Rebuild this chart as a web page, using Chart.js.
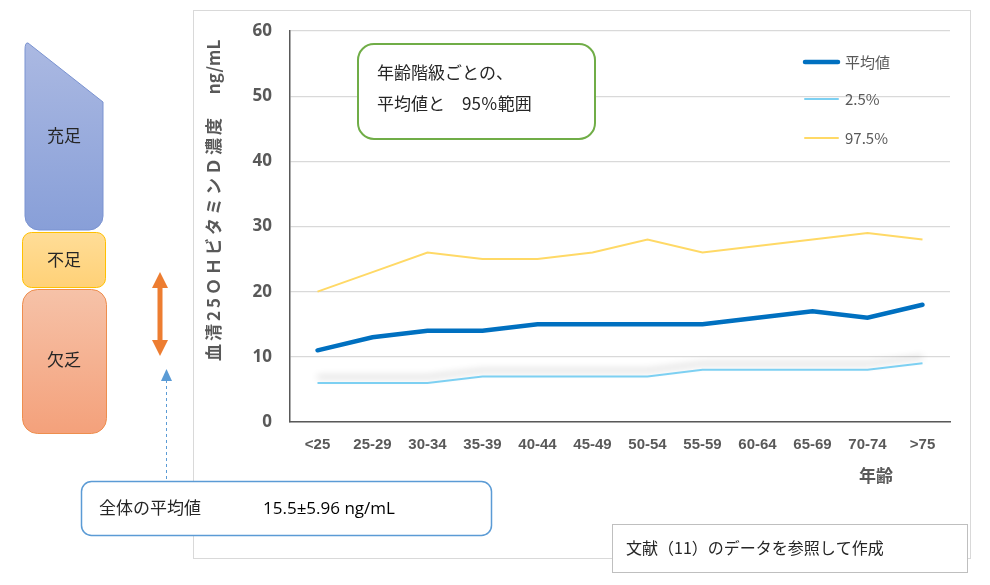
<!DOCTYPE html>
<html>
<head>
<meta charset="utf-8">
<script src="https://cdn.jsdelivr.net/npm/chart.js@4/dist/chart.umd.min.js"></script>
<style>
  html, body { margin: 0; padding: 0; background: #fff; }
  #wrap { width: 990px; height: 585px; position: relative; }
</style>
</head>
<body>
<div id="wrap"><canvas id="myChart"></canvas></div>
<script>
// 年齢階級
const ageGroups = ['<25', '25-29', '30-34', '35-39', '40-44', '45-49', '50-54', '55-59', '60-64', '65-69', '70-74', '>75'];
// 血清25OHビタミンD濃度 (ng/mL)
const meanValues = [11, 13, 14, 14, 15, 15, 15, 15, 16, 17, 16, 18];
const p025Values = [6, 6, 6, 7, 7, 7, 7, 8, 8, 8, 8, 9];
const p975Values = [20, 23, 26, 25, 25, 26, 28, 26, 27, 28, 29, 28];
const seriesNames = ['平均値', '2.5%', '97.5%'];
const yTicks = [0, 10, 20, 30, 40, 50, 60];

const JP = '"Noto Sans CJK JP", "Noto Sans", sans-serif';
const GRAY = '#595959';

function rr(ctx, x, y, w, h, r) {
    ctx.beginPath();
    ctx.moveTo(x + r, y);
    ctx.arcTo(x + w, y, x + w, y + h, r);
    ctx.arcTo(x + w, y + h, x, y + h, r);
    ctx.arcTo(x, y + h, x, y, r);
    ctx.arcTo(x, y, x + w, y, r);
    ctx.closePath();
}

function text(ctx, s, x, y, font, color, align) {
    ctx.font = font;
    ctx.fillStyle = color;
    ctx.textAlign = align || 'left';
    ctx.textBaseline = 'middle';
    ctx.fillText(s, x, y);
}

// 2.5%線の影
const shadowPlugin = {
    id: 'shadow',
    beforeDatasetDraw(chart, args) {
        if (args.index !== 1) return;
        const ctx = chart.ctx;
        ctx.save();
        ctx.shadowColor = 'rgba(0,0,0,0.28)';
        ctx.shadowBlur = 7;
        ctx.shadowOffsetY = -6;
    },
    afterDatasetDraw(chart, args) {
        if (args.index !== 1) return;
        chart.ctx.restore();
    }
};

const decorPlugin = {
    id: 'decor',
    beforeDraw(chart) {
        const ctx = chart.ctx;
        ctx.save();
        ctx.fillStyle = '#fff';
        ctx.fillRect(0, 0, chart.width, chart.height);
        ctx.strokeStyle = '#D9D9D9';
        ctx.lineWidth = 1;
        ctx.strokeRect(193.5, 10.5, 777, 548);
        ctx.restore();
    },
    afterDraw(chart) {
        const ctx = chart.ctx;
        ctx.save();

        // 軸タイトル
        ctx.save();
        ctx.translate(214, 0);
        ctx.rotate(-Math.PI / 2);
        ctx.letterSpacing = '3px';
        text(ctx, '血清25ＯＨビタミンＤ濃度', -238, 0, 'bold 17px ' + JP, GRAY, 'center');
        ctx.letterSpacing = '0px';
        text(ctx, 'ng/mL', -67, 0, 'bold 17px ' + JP, GRAY, 'center');
        ctx.restore();
        text(ctx, '年齢', 876, 476, 'bold 17px ' + JP, GRAY, 'center');

        // 凡例
        const legY = [62, 99, 138];
        chart.data.datasets.forEach((ds, i) => {
            ctx.strokeStyle = ds.borderColor;
            ctx.lineWidth = ds.borderWidth;
            ctx.lineCap = 'round';
            ctx.beginPath();
            ctx.moveTo(805, legY[i]);
            ctx.lineTo(838, legY[i]);
            ctx.stroke();
            text(ctx, ds.label, 845, legY[i], '15px ' + JP, GRAY);
        });
        ctx.lineCap = 'butt';

        // 注記枠
        rr(ctx, 358, 44, 237, 95, 16);
        ctx.fillStyle = '#fff';
        ctx.fill();
        ctx.strokeStyle = '#70AD47';
        ctx.lineWidth = 2;
        ctx.stroke();
        text(ctx, '年齢階級ごとの、', 377, 73, '17px ' + JP, '#262626');
        text(ctx, '平均値と　95％範囲', 377, 104, '17px ' + JP, '#262626');

        // 左側の区分
        let g = ctx.createLinearGradient(0, 42, 0, 230);
        g.addColorStop(0, '#ABB9E2');
        g.addColorStop(1, '#889FD8');
        ctx.beginPath();
        ctx.moveTo(25, 50);
        ctx.quadraticCurveTo(25, 42, 28, 43);
        ctx.lineTo(103, 102);
        ctx.lineTo(103, 215);
        ctx.arcTo(103, 230, 88, 230, 14);
        ctx.lineTo(40, 230);
        ctx.arcTo(25, 230, 25, 215, 14);
        ctx.closePath();
        ctx.fillStyle = g;
        ctx.fill();
        ctx.strokeStyle = '#7A93D1';
        ctx.lineWidth = 1;
        ctx.stroke();
        text(ctx, '充足', 64, 136, '17px ' + JP, '#262626', 'center');

        g = ctx.createLinearGradient(0, 232, 0, 287);
        g.addColorStop(0, '#FFDD98');
        g.addColorStop(1, '#FFD177');
        rr(ctx, 22.5, 232.5, 83, 55, 9);
        ctx.fillStyle = g;
        ctx.fill();
        ctx.strokeStyle = '#FFC000';
        ctx.stroke();
        text(ctx, '不足', 64, 260, '17px ' + JP, '#262626', 'center');

        g = ctx.createLinearGradient(0, 289, 0, 433);
        g.addColorStop(0, '#F6C2A8');
        g.addColorStop(1, '#F4A17B');
        rr(ctx, 22.5, 289.5, 84, 144, 15);
        ctx.fillStyle = g;
        ctx.fill();
        ctx.strokeStyle = '#EE8E4E';
        ctx.stroke();
        text(ctx, '欠乏', 64, 360, '17px ' + JP, '#262626', 'center');

        // 橙の両矢印
        ctx.fillStyle = '#ED7D31';
        ctx.beginPath();
        ctx.moveTo(160, 272);
        ctx.lineTo(168, 288);
        ctx.lineTo(162.5, 288);
        ctx.lineTo(162.5, 340);
        ctx.lineTo(168, 340);
        ctx.lineTo(160, 356);
        ctx.lineTo(152, 340);
        ctx.lineTo(157.5, 340);
        ctx.lineTo(157.5, 288);
        ctx.lineTo(152, 288);
        ctx.closePath();
        ctx.fill();

        // 青の破線矢印
        ctx.strokeStyle = '#5B9BD5';
        ctx.lineWidth = 1;
        ctx.setLineDash([3, 3]);
        ctx.beginPath();
        ctx.moveTo(166.5, 380);
        ctx.lineTo(166.5, 481);
        ctx.stroke();
        ctx.setLineDash([]);
        ctx.fillStyle = '#5B9BD5';
        ctx.beginPath();
        ctx.moveTo(166.5, 369);
        ctx.lineTo(172, 381);
        ctx.lineTo(161, 381);
        ctx.closePath();
        ctx.fill();

        // 全体の平均値
        rr(ctx, 81.5, 481.5, 410, 54, 10);
        ctx.fillStyle = '#fff';
        ctx.fill();
        ctx.strokeStyle = '#5B9BD5';
        ctx.lineWidth = 1.5;
        ctx.stroke();
        text(ctx, '全体の平均値', 99, 508, '17px ' + JP, '#262626');
        text(ctx, '15.5±5.96 ng/mL', 263, 509, '17px "Open Sans", sans-serif', '#000');

        // 出典
        ctx.fillStyle = '#fff';
        ctx.fillRect(612, 524, 355, 48);
        ctx.strokeStyle = '#BFBFBF';
        ctx.lineWidth = 1;
        ctx.strokeRect(612.5, 524.5, 355, 48);
        text(ctx, '文献（11）のデータを参照して作成', 626, 548, '16px ' + JP, '#262626');

        ctx.restore();
    }
};

const ctx = document.getElementById('myChart');

new Chart(ctx, {
    type: 'line',
    data: {
        labels: ageGroups,
        datasets: [{
            label: seriesNames[0],
            data: meanValues,
            borderColor: '#0070C0',
            borderWidth: 4.5,
            pointRadius: 0,
            tension: 0,
            borderCapStyle: 'round'
        }, {
            label: seriesNames[1],
            data: p025Values,
            borderColor: '#7DD0F2',
            borderWidth: 2,
            pointRadius: 0,
            tension: 0
        }, {
            label: seriesNames[2],
            data: p975Values,
            borderColor: '#FFD966',
            borderWidth: 2,
            pointRadius: 0,
            tension: 0
        }]
    },
    options: {
        responsive: true,
        maintainAspectRatio: false,
        animation: false,
        devicePixelRatio: 1,
        layout: { padding: { left: 200, right: 40, top: 31, bottom: 123 } },
        plugins: {
            legend: { display: false },
            tooltip: { enabled: false }
        },
        scales: {
            x: {
                offset: true,
                grid: { display: false, drawTicks: false },
                border: { color: GRAY, width: 1.5 },
                ticks: {
                    padding: 14,
                    color: GRAY,
                    maxRotation: 0,
                    font: { family: '"Liberation Sans Narrow", "Liberation Sans", sans-serif', weight: 'bold', size: 15 }
                },
                afterFit(s) { s.height = 40; }
            },
            y: {
                min: 0,
                max: 60,
                afterBuildTicks(s) { s.ticks = yTicks.map(v => ({ value: v })); },
                grid: { color: '#D9D9D9', drawTicks: false, lineWidth: 1.2 },
                border: { color: GRAY, width: 1.5 },
                ticks: {
                    padding: 18,
                    color: GRAY,
                    font: { family: '"Open Sans", sans-serif', weight: 'bold', size: 17 }
                },
                afterFit(s) { s.width = 90; }
            }
        }
    },
    plugins: [shadowPlugin, decorPlugin]
});
</script>
</body>
</html>
